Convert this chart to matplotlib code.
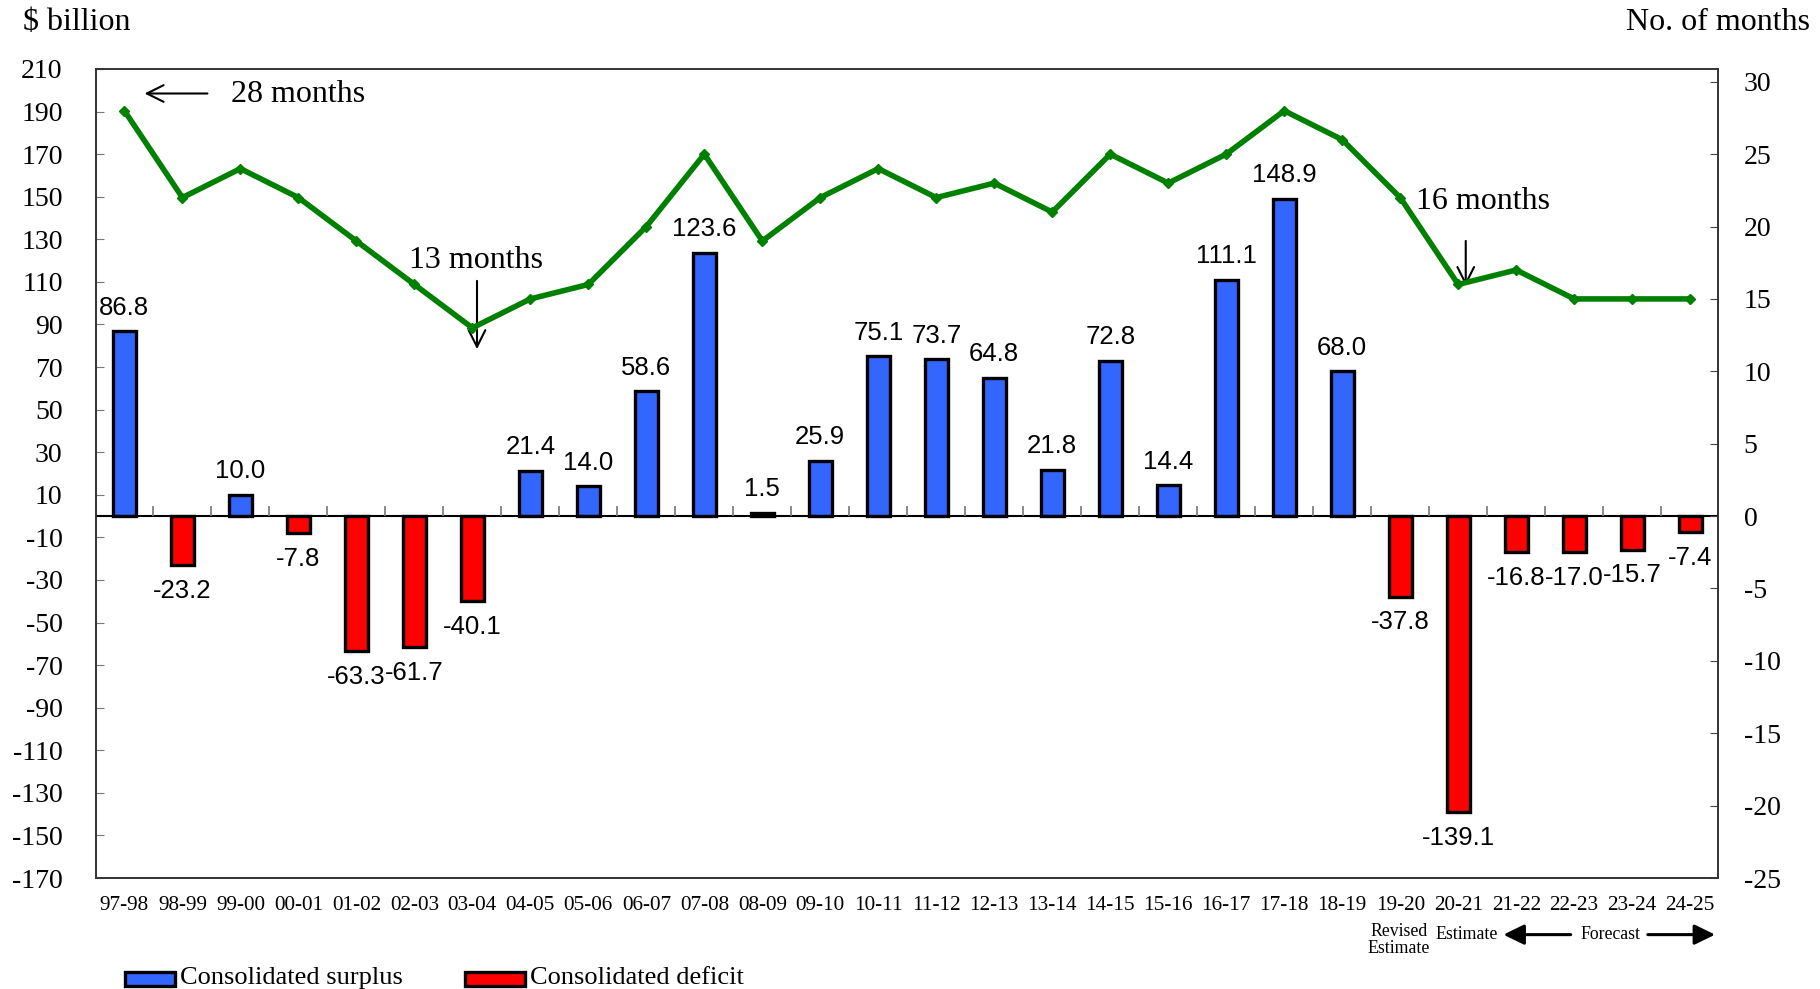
import matplotlib
matplotlib.use("Agg")
import matplotlib.pyplot as plt
import numpy as np
from matplotlib.patches import Rectangle

years = ['97-98', '98-99', '99-00', '00-01', '01-02', '02-03', '03-04', '04-05',
         '05-06', '06-07', '07-08', '08-09', '09-10', '10-11', '11-12', '12-13',
         '13-14', '14-15', '15-16', '16-17', '17-18', '18-19', '19-20', '20-21',
         '21-22', '22-23', '23-24', '24-25']
balance = [86.8, -23.2, 10.0, -7.8, -63.3, -61.7, -40.1, 21.4, 14.0, 58.6, 123.6,
           1.5, 25.9, 75.1, 73.7, 64.8, 21.8, 72.8, 14.4, 111.1, 148.9, 68.0,
           -37.8, -139.1, -16.8, -17.0, -15.7, -7.4]
months = [28, 22, 24, 22, 19, 16, 13, 15, 16, 20, 25, 19, 22, 24, 22, 23, 21,
          25, 23, 25, 28, 26, 22, 16, 17, 15, 15, 15]
left_ticks = list(range(-170, 211, 20))
right_ticks = list(range(-25, 31, 5))

SERIF = 'Liberation Serif'
SANS = 'Liberation Sans'
BLUE = '#3366FF'
RED = '#FF0000'
GREEN = '#008000'

W, H = 1820, 989
fig = plt.figure(figsize=(W/100, H/100), dpi=100)
L, R, T, B = 96, 1718, 69, 878
ax = fig.add_axes([L/W, 1-B/H, (R-L)/W, (B-T)/H])
ax2 = ax.twinx()

x = np.arange(len(years))
bal = np.array(balance)
colors = [BLUE if v >= 0 else RED for v in bal]
ax.bar(x, bal, width=0.40, color=colors, edgecolor='black', linewidth=2.4, zorder=3)
ax.axhline(0, color='black', lw=1.5, zorder=4)
bounds = np.arange(len(years) - 1) + 0.5
ax.plot(bounds, np.zeros_like(bounds), ls='none', marker=2, ms=7, mew=1.2,
        color='#777777', zorder=4)

for xi, v in zip(x, bal):
    if v >= 0:
        ax.annotate(f'{v:.1f}', (xi, v), xytext=(0, 12), textcoords='offset points',
                    ha='center', va='baseline', fontsize=18.5, family=SANS)
    else:
        ax.annotate(f'{v:.1f}', (xi, v), xytext=(0, -10), textcoords='offset points',
                    ha='center', va='top', fontsize=18.5, family=SANS)

ax.set_xlim(-0.49, len(years) - 1 + 0.48)
ax.set_ylim(-170, 210)
ax.set_yticks(left_ticks)
ax.set_yticklabels([str(t) for t in left_ticks], family=SERIF, fontsize=20)
ax.set_xticks(x)
ax.set_xticklabels(years, family=SERIF, fontsize=15.3)
ax.tick_params(axis='x', length=0, pad=13)
ax.tick_params(axis='y', direction='in', length=6, color='#777777', pad=24)

ax2.plot(x, months, color=GREEN, lw=4.0, marker='D', ms=5.5, zorder=5)
ax2.set_ylim(-25, 25 * 210 / 170)
ax2.set_yticks(right_ticks)
ax2.set_yticklabels([str(t) for t in right_ticks], family=SERIF, fontsize=20)
ax2.tick_params(axis='y', direction='in', length=6, color='#444444', pad=18.5)

for a in (ax, ax2):
    for s in a.spines.values():
        s.set_color('#333333')
        s.set_linewidth(1.2)

ap = dict(arrowstyle='->', lw=1.5, color='black', mutation_scale=30)
ax2.annotate('', xy=(0.30, 29.19), xytext=(1.48, 29.19), arrowprops=ap)
ax2.text(1.83, 29.1, '28 months', family=SERIF, fontsize=23, ha='left', va='center')
ax2.annotate('', xy=(6.08, 11.34), xytext=(6.08, 16.44), arrowprops=ap)
ax2.text(6.06, 17.65, '13 months', family=SERIF, fontsize=23, ha='center', va='center')
ax2.annotate('', xy=(23.13, 15.7), xytext=(23.13, 19.2), arrowprops=ap)
ax2.text(23.42, 21.75, '16 months', family=SERIF, fontsize=23, ha='center', va='center')

tr = ax.get_xaxis_transform()
ax.text(21.98, -0.077, 'Revised\nEstimate', transform=tr, family=SERIF, fontsize=12.8,
        ha='center', va='center', linespacing=1.0)
ax.text(23.14, -0.070, 'Estimate', transform=tr, family=SERIF, fontsize=12.8,
        ha='center', va='center')
ax.text(25.62, -0.070, 'Forecast', transform=tr, family=SERIF, fontsize=12.8,
        ha='center', va='center')
fa = dict(arrowstyle='-|>,head_length=0.45,head_width=0.22', lw=2.2, color='black',
          mutation_scale=28, shrinkA=0, shrinkB=0)
ax.annotate('', xy=(23.78, -0.070), xycoords=tr, xytext=(24.94, -0.070),
            textcoords=tr, arrowprops=fa, annotation_clip=False)
ax.annotate('', xy=(27.43, -0.070), xycoords=tr, xytext=(26.27, -0.070),
            textcoords=tr, arrowprops=fa, annotation_clip=False)

fig.text(23/W, 1-22/H, '$ billion', family=SERIF, fontsize=23, ha='left', va='center')
fig.text(1810/W, 1-22/H, 'No. of months', family=SERIF, fontsize=23, ha='right', va='center')

leg_y = 979
for (x0, x1, col, label) in [(125, 175, BLUE, 'Consolidated surplus'),
                             (465, 525, RED, 'Consolidated deficit')]:
    fig.patches.append(Rectangle((x0/W, 1-(leg_y+7)/H), (x1-x0)/W, 14/H,
                                 transform=fig.transFigure, facecolor=col,
                                 edgecolor='black', linewidth=2.4))
    fig.text((x1+5)/W, 1-(leg_y-1)/H, label, family=SERIF, fontsize=19,
             ha='left', va='center')

fig.savefig('out.png', dpi=100)
